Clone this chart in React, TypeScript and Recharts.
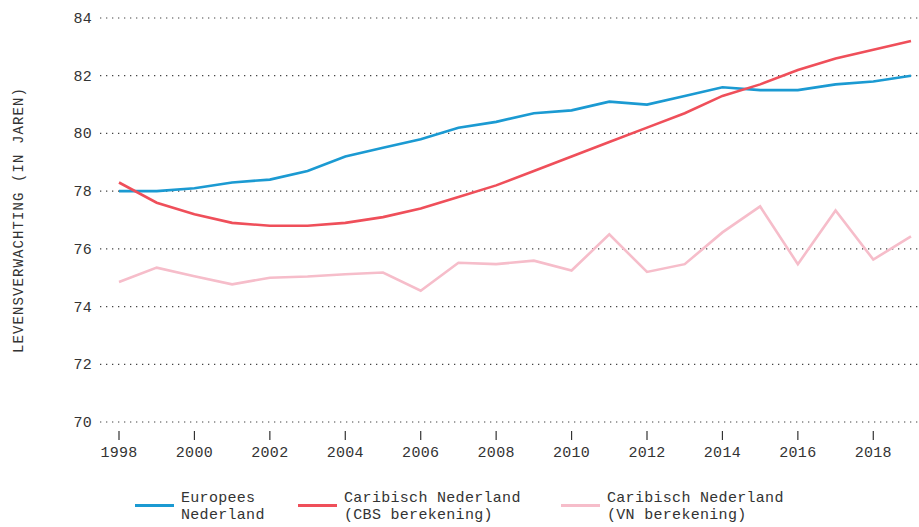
import React from 'react';
import { LineChart, Line, XAxis, YAxis, CartesianGrid } from 'recharts';

const years = [1998, 1999, 2000, 2001, 2002, 2003, 2004, 2005, 2006, 2007, 2008, 2009, 2010, 2011, 2012, 2013, 2014, 2015, 2016, 2017, 2018, 2019];
const europeesNL = [78.0, 78.0, 78.1, 78.3, 78.4, 78.7, 79.2, 79.5, 79.8, 80.2, 80.4, 80.7, 80.8, 81.1, 81.0, 81.3, 81.6, 81.5, 81.5, 81.7, 81.8, 82.0];
const caribischCBS = [78.3, 77.6, 77.2, 76.9, 76.8, 76.8, 76.9, 77.1, 77.4, 77.8, 78.2, 78.7, 79.2, 79.7, 80.2, 80.7, 81.3, 81.7, 82.2, 82.6, 82.9, 83.2];
const caribischVN = [74.85, 75.35, 75.05, 74.77, 75.0, 75.04, 75.12, 75.18, 74.55, 75.52, 75.47, 75.59, 75.25, 76.5, 75.2, 75.47, 76.57, 77.47, 75.47, 77.33, 75.63, 76.43];

const xTicks = [1998, 2000, 2002, 2004, 2006, 2008, 2010, 2012, 2014, 2016, 2018];
const yTicks = [70, 72, 74, 76, 78, 80, 82, 84];

const seriesKeys = ['eu', 'cbs', 'vn'];
const seriesNames = [
  ['Europees', 'Nederland'],
  ['Caribisch Nederland', '(CBS berekening)'],
  ['Caribisch Nederland', '(VN berekening)'],
];
const seriesColors = ['#1b9ad2', '#ef4f5a', '#f6bdca'];
const yLabel = 'LEVENSVERWACHTING (IN JAREN)';

const data = years.map((y, i) => ({
  year: y,
  eu: europeesNL[i],
  cbs: caribischCBS[i],
  vn: caribischVN[i],
}));

const FONT = '"Liberation Mono", "DejaVu Sans Mono", monospace';
const TEXT = '#333333';

const XTick = (props: any) => {
  const { x, y, payload } = props;
  return (
    <g>
      <line x1={x} x2={x} y1={y + 9} y2={y + 18} stroke="#333" strokeWidth={1.2} />
      <text x={x} y={y + 35} textAnchor="middle" fill={TEXT} fontFamily={FONT} fontSize={15} letterSpacing={0.3}>
        {payload.value}
      </text>
    </g>
  );
};

const YTick = (props: any) => {
  const { x, y, payload } = props;
  return (
    <text x={x} y={y + 5} textAnchor="end" fill={TEXT} fontFamily={FONT} fontSize={15} letterSpacing={0.3}>
      {payload.value}
    </text>
  );
};

const legendX = [135, 298, 561];

export default function App() {
  return (
    <div style={{ position: 'absolute', left: 0, top: 0, width: 919, height: 527, background: '#fff' }}>
      <LineChart width={919} height={527} data={data} margin={{ top: 18, right: 0, bottom: 65, left: 0 }}>
        <CartesianGrid vertical={false} stroke="#444" strokeDasharray="1.3 4.7" strokeWidth={1.2} />
        <XAxis
          dataKey="year"
          type="number"
          domain={[1998, 2019]}
          ticks={xTicks}
          padding={{ left: 19, right: 8 }}
          axisLine={false}
          tickLine={false}
          tickSize={0}
          tickMargin={0}
          height={40}
          tick={<XTick />}
          interval={0}
        />
        <YAxis
          domain={[70, 84]}
          ticks={yTicks}
          width={100}
          axisLine={false}
          tickLine={false}
          tickSize={0}
          tickMargin={8}
          tick={<YTick />}
          interval={0}
          label={{
            value: yLabel,
            angle: -90,
            position: 'center',
            dx: -32,
            style: { fontFamily: FONT, fontSize: 14, fill: TEXT, letterSpacing: 1.1, textAnchor: 'middle' },
          }}
        />
        {seriesKeys.map((k, i) => (
          <Line
            key={k}
            dataKey={k}
            stroke={seriesColors[i]}
            strokeWidth={2.6}
            dot={false}
            activeDot={false}
            type="linear"
            isAnimationActive={false}
          />
        ))}
      </LineChart>
      {seriesKeys.map((k, i) => (
        <div
          key={k}
          style={{ position: 'absolute', left: legendX[i], top: 490, display: 'flex', alignItems: 'flex-start' }}
        >
          <div style={{ width: 39, height: 3, background: seriesColors[i], marginTop: 14 }} />
          <div
            style={{
              marginLeft: 7,
              fontFamily: FONT,
              fontSize: 15,
              letterSpacing: 0.3,
              lineHeight: '17px',
              color: TEXT,
              whiteSpace: 'nowrap',
            }}
          >
            <div>{seriesNames[i][0]}</div>
            <div>{seriesNames[i][1]}</div>
          </div>
        </div>
      ))}
    </div>
  );
}
